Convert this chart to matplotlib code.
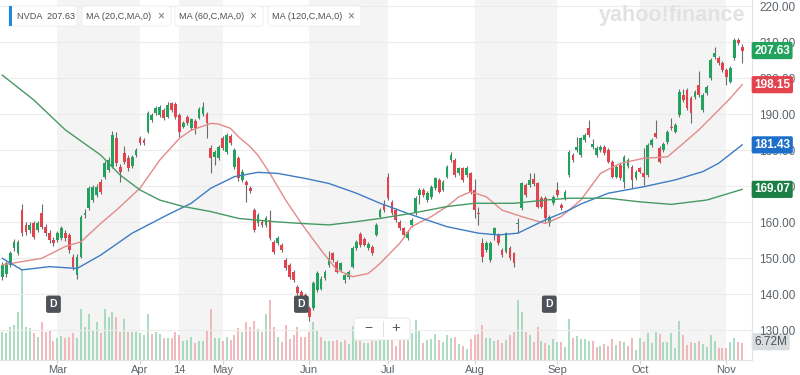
import matplotlib
matplotlib.use('Agg')
import matplotlib.pyplot as plt
import matplotlib.transforms as mtransforms
from matplotlib.patches import FancyBboxPatch, Rectangle

plt.rcParams['font.family'] = ['Liberation Sans', 'DejaVu Sans']

# daily candles, one entry per trading day (index 0 = first visible day)
opens = [144.8, 145.5, 148.1, 152.7, 151.3, 163.3, 159.2, 157.8, 159.6, 157.8,
         162.4, 158.7, 156.9, 155.0, 155.0, 155.5, 156.9, 156.4, 150.4, 145.3,
         150.4, 162.0, 163.8, 166.1, 167.5, 171.2, 172.6, 174.4, 175.4, 183.2,
         175.4, 179.1, 177.7, 175.5, 178.6, 183.2, 182.8, 185.1, 188.3, 190.2,
         189.7, 191.1, 189.3, 193.0, 192.8, 189.7, 186.5, 189.3, 186.0, 188.0,
         189.0, 190.0, 190.0, 180.5, 178.1, 177.7, 183.2, 179.5, 184.0, 175.4,
         177.7, 171.7, 171.2, 169.5, 163.3, 159.6, 160.0, 159.1, 160.6, 154.5,
         154.2, 153.6, 149.4, 148.0, 146.2, 142.0, 140.6, 139.7, 136.0, 136.0,
         141.1, 141.5, 144.4, 148.1, 151.3, 149.0, 146.7, 143.9, 144.8, 147.6,
         152.7, 156.8, 155.4, 152.8, 153.1, 156.4, 161.5, 164.7, 172.6, 165.6,
         163.3, 160.1, 158.2, 155.5, 159.2, 162.4, 167.5, 168.9, 166.1, 167.0,
         169.4, 171.7, 169.0, 172.6, 177.2, 177.2, 173.5, 174.9, 173.0, 173.5,
         168.9, 162.2, 154.1, 152.2, 149.4, 156.4, 156.4, 152.2, 151.8, 152.7,
         151.3, 159.4, 163.8, 170.3, 170.3, 172.0, 170.7, 166.6, 166.6, 159.6,
         165.2, 168.9, 164.7, 166.6, 173.0, 178.6, 180.0, 178.6, 182.8, 186.0,
         180.9, 178.6, 180.0, 180.9, 180.0, 176.8, 172.6, 175.8, 171.2, 175.5,
         175.4, 172.1, 174.9, 173.5, 173.0, 181.4, 184.6, 180.5, 180.0, 182.3,
         186.5, 185.1, 189.7, 195.3, 196.7, 194.4, 194.8, 198.0, 191.1, 195.7,
         199.9, 205.9, 205.5, 204.1, 202.2, 199.0, 205.5, 210.6, 208.7]
highs = [148.8, 149.3, 152.0, 155.2, 155.0, 165.0, 160.0, 160.0, 160.3, 160.2,
         165.0, 159.5, 157.8, 155.8, 157.5, 158.8, 157.8, 157.0, 151.2, 151.0,
         162.0, 163.5, 170.0, 170.3, 170.5, 172.0, 177.0, 178.0, 185.2, 185.0,
         176.0, 181.2, 178.5, 178.6, 180.6, 183.8, 183.4, 190.8, 190.4, 192.2,
         192.5, 191.8, 193.2, 193.4, 193.3, 190.2, 188.0, 189.8, 189.0, 188.6,
         192.0, 193.2, 190.5, 181.5, 180.0, 181.4, 183.8, 184.8, 184.5, 180.5,
         178.3, 174.6, 171.8, 170.0, 164.0, 162.6, 160.6, 161.6, 163.3, 155.0,
         156.0, 154.1, 150.0, 148.6, 146.8, 142.6, 141.2, 140.2, 136.6, 143.6,
         146.3, 145.0, 146.8, 152.0, 151.8, 149.5, 149.0, 145.8, 146.7, 153.2,
         155.0, 157.3, 155.9, 154.5, 153.6, 159.7, 163.8, 166.0, 173.5, 166.2,
         163.8, 160.6, 158.7, 157.8, 161.0, 167.1, 169.5, 169.4, 168.5, 170.3,
         172.6, 172.2, 171.7, 175.9, 179.5, 177.7, 175.4, 175.4, 175.5, 174.0,
         172.0, 164.3, 155.5, 154.6, 154.6, 158.5, 156.9, 152.7, 157.3, 153.2,
         151.8, 161.0, 171.2, 170.8, 173.5, 173.5, 171.2, 167.1, 167.1, 162.0,
         167.5, 171.0, 165.2, 168.9, 180.0, 179.1, 183.7, 183.7, 184.7, 188.3,
         183.0, 181.0, 181.4, 181.4, 180.5, 177.3, 175.7, 176.3, 178.5, 177.7,
         175.9, 174.5, 175.4, 180.5, 181.9, 183.3, 188.3, 181.0, 182.3, 185.6,
         188.8, 187.5, 197.0, 197.0, 197.2, 194.9, 196.7, 202.0, 195.8, 198.1,
         205.5, 208.7, 206.0, 204.6, 202.7, 203.2, 211.1, 211.0, 209.5]
lows = [144.0, 144.8, 147.5, 152.0, 150.8, 156.0, 156.5, 157.0, 155.2, 157.2,
        158.0, 156.2, 154.2, 153.4, 154.5, 155.0, 154.8, 151.5, 146.8, 144.3,
        150.0, 161.0, 163.2, 165.5, 167.0, 167.8, 172.0, 174.0, 175.0, 175.6,
        171.2, 176.2, 174.2, 175.0, 178.0, 181.3, 181.4, 184.6, 187.8, 189.6,
        189.2, 188.2, 188.8, 190.5, 188.7, 183.7, 186.0, 186.9, 185.5, 184.5,
        188.5, 189.5, 183.3, 173.5, 175.8, 177.2, 180.0, 179.0, 181.4, 174.8,
        171.5, 171.2, 165.6, 168.0, 157.2, 159.0, 158.5, 158.6, 155.0, 151.2,
        153.7, 151.7, 146.6, 144.3, 143.4, 139.7, 138.2, 137.8, 132.5, 135.5,
        140.6, 141.0, 144.0, 147.6, 148.8, 145.7, 146.2, 143.0, 144.3, 147.1,
        152.2, 153.1, 153.2, 152.3, 150.8, 156.0, 161.0, 162.8, 166.0, 161.9,
        160.0, 157.7, 155.9, 155.0, 158.7, 162.0, 165.0, 167.0, 165.6, 166.5,
        169.0, 168.0, 168.5, 172.2, 176.8, 172.5, 173.0, 171.2, 172.5, 167.9,
        161.0, 159.2, 149.0, 151.7, 149.0, 155.0, 153.6, 150.3, 151.3, 149.4,
        147.5, 157.0, 163.3, 167.0, 169.8, 170.0, 163.8, 163.8, 160.0, 159.0,
        164.7, 167.0, 163.3, 166.1, 172.5, 176.7, 179.5, 178.1, 182.3, 183.7,
        180.4, 178.1, 179.5, 178.6, 176.3, 172.1, 172.1, 171.6, 169.5, 175.0,
        169.5, 171.6, 173.5, 170.3, 172.5, 180.9, 183.2, 176.3, 179.5, 181.8,
        185.5, 184.6, 189.2, 193.4, 191.1, 187.5, 194.3, 194.8, 190.6, 195.2,
        199.4, 205.4, 203.6, 201.7, 198.0, 198.5, 205.0, 209.1, 204.1]
closes = [148.1, 148.5, 151.3, 154.5, 154.5, 156.9, 157.3, 159.2, 155.9, 159.6,
          158.7, 156.9, 155.0, 154.1, 156.9, 158.2, 155.5, 152.2, 147.6, 150.4,
          161.5, 162.5, 169.4, 169.8, 169.8, 168.4, 176.3, 177.2, 184.2, 176.3,
          174.0, 176.8, 174.9, 178.0, 180.0, 181.9, 181.9, 190.2, 189.7, 191.6,
          192.0, 188.8, 192.5, 191.1, 189.3, 185.1, 187.4, 187.5, 188.5, 186.0,
          191.5, 192.0, 187.5, 177.7, 179.5, 180.9, 180.5, 184.2, 182.0, 180.0,
          172.1, 174.0, 170.3, 168.5, 157.8, 162.0, 159.1, 161.0, 155.5, 151.8,
          155.5, 152.2, 147.1, 144.8, 143.9, 140.2, 138.8, 138.3, 133.7, 143.0,
          145.7, 144.3, 146.2, 149.9, 149.4, 146.2, 148.5, 145.3, 146.2, 152.7,
          154.5, 153.6, 153.7, 154.0, 151.3, 159.2, 163.3, 163.3, 166.6, 162.4,
          160.5, 158.2, 156.4, 157.3, 160.5, 166.6, 168.9, 167.5, 168.0, 169.8,
          172.1, 168.4, 171.2, 175.4, 178.6, 173.0, 174.9, 171.7, 175.0, 168.4,
          163.3, 162.0, 150.4, 154.1, 154.1, 158.2, 154.1, 150.8, 156.9, 149.9,
          148.5, 159.8, 170.7, 167.5, 171.7, 170.5, 164.3, 164.3, 161.0, 161.5,
          167.0, 167.5, 163.8, 168.4, 179.5, 177.2, 180.9, 183.2, 184.2, 184.2,
          181.8, 180.5, 180.9, 179.1, 176.8, 172.6, 175.2, 172.1, 178.1, 177.2,
          171.7, 174.0, 174.0, 172.6, 181.4, 182.8, 183.7, 176.8, 181.8, 185.1,
          186.0, 187.0, 196.2, 193.9, 191.6, 190.2, 196.2, 195.3, 195.3, 197.6,
          205.0, 206.9, 204.1, 202.2, 200.4, 202.7, 210.6, 209.6, 207.63]
# volume in millions
volumes = [11.3, 10.7, 13.3, 14.0, 19.3, 36.0, 13.3, 12.7, 10.7, 9.3,
           15.3, 11.3, 11.6, 7.6, 8.7, 9.6, 8.7, 9.3, 10.7, 8.7,
           20.4, 13.3, 18.3, 12.0, 15.3, 10.7, 20.3, 17.3, 19.3, 17.3,
           11.3, 16.3, 11.3, 11.1, 11.1, 10.7, 10.0, 18.3, 10.3, 11.1,
           10.3, 8.7, 8.7, 8.7, 11.1, 10.0, 7.7, 8.0, 9.3, 6.7,
           7.6, 7.6, 11.6, 20.4, 8.9, 8.7, 7.6, 9.1, 8.0, 10.0,
           12.9, 11.1, 15.3, 13.3, 15.6, 12.4, 11.1, 18.3, 24.0, 13.3,
           9.3, 7.3, 14.0, 8.4, 10.0, 13.3, 9.3, 9.3, 11.1, 15.3,
           12.0, 9.3, 7.6, 7.6, 7.6, 8.0, 7.1, 8.0, 6.3, 13.7,
           7.6, 7.6, 6.7, 6.7, 7.6, 7.6, 9.3, 9.3, 9.3, 9.3,
           5.7, 8.7, 8.0, 8.0, 10.7, 16.0, 11.6, 6.7, 8.0, 8.4,
           10.3, 8.0, 7.1, 10.0, 8.7, 9.3, 6.3, 5.7, 4.4, 8.4,
           10.0, 10.3, 14.0, 8.7, 8.7, 7.6, 8.0, 6.7, 8.0, 10.0,
           11.1, 24.0, 19.1, 11.1, 10.0, 7.1, 13.3, 7.6, 6.7, 6.0,
           8.4, 7.1, 7.1, 5.3, 16.4, 8.9, 9.7, 8.4, 8.4, 7.6,
           7.6, 5.3, 5.7, 6.3, 5.7, 8.4, 6.0, 7.6, 7.1, 5.7,
           8.7, 4.0, 8.7, 7.1, 10.7, 6.7, 11.2, 10.3, 7.1, 7.1,
           10.7, 4.7, 15.7, 10.0, 6.0, 7.3, 6.7, 7.6, 6.3, 5.3,
           10.0, 7.6, 4.9, 4.9, 4.9, 7.1, 8.7, 7.1, 6.72]

# moving averages (day index, value)
ma20_idx = [0, 10, 16, 20, 25, 29, 35, 40, 45, 48, 53, 55, 58, 60, 63, 65, 68, 72,
            76, 81, 85, 89, 93, 96, 101, 104, 109, 113, 116, 119, 123, 127, 132,
            138, 142, 144, 147, 152, 157, 163, 169, 173, 177, 182, 185, 188]
ma20_val = [148.1, 149.9, 153.2, 154.5, 159.6, 163.3, 169.4, 177.2, 183.2, 185.5,
            187.4, 187.2, 186.0, 183.7, 180.9, 178.5, 173.5, 166.1, 159.6, 152.2,
            146.7, 144.8, 145.7, 148.5, 154.1, 158.7, 161.5, 164.3, 167.0, 168.4,
            167.0, 163.3, 161.5, 159.6, 161.5, 163.3, 166.1, 173.5, 176.3, 177.7,
            178.1, 181.8, 185.6, 191.1, 194.4, 198.15]
ma60_idx = [0, 5, 12, 19, 25, 33, 42, 48, 53, 59, 65, 70, 77, 83, 90, 96, 104,
            113, 121, 126, 131, 138, 144, 147, 154, 163, 171, 178, 182, 188]
ma60_val = [149.9, 146.7, 147.6, 147.1, 150.8, 156.9, 162.0, 165.2, 169.4, 172.6,
            173.8, 173.5, 172.1, 170.7, 168.0, 165.2, 162.0, 158.7, 156.9, 156.4,
            156.9, 160.6, 163.3, 165.0, 168.0, 169.8, 171.7, 174.0, 176.3, 181.43]
ma120_idx = [0, 8, 16, 25, 30, 35, 40, 46, 53, 60, 69, 76, 83, 90, 96, 104, 113,
             120, 130, 138, 144, 154, 162, 170, 179, 188]
ma120_val = [200.8, 193.9, 185.6, 178.6, 173.0, 168.9, 166.1, 164.3, 162.9, 161.0,
             160.1, 159.6, 159.2, 160.1, 161.0, 162.4, 164.3, 165.2, 165.2, 166.1,
             166.6, 166.6, 165.6, 164.9, 166.1, 169.07]

month_labels = ['Mar', 'Apr', '14', 'May', 'Jun', 'Jul', 'Aug', 'Sep', 'Oct', 'Nov']
month_idx = [14, 35, 45, 56, 78, 98, 120, 141, 162, 184]
dividend_idx = [13, 76, 139]

UP = '#22a35d'
DOWN = '#e3434c'
UP_VOL = '#93d3b0'
DOWN_VOL = '#eea6a8'
TEXT = '#5b636a'

fig = plt.figure(figsize=(8, 3.75), dpi=100)
rect = [0, 15 / 375, 752 / 800, 360 / 375]
ax_vol = fig.add_axes(rect)
ax = fig.add_axes(rect, sharex=ax_vol)
ax.set_facecolor('none')

n = len(closes)
idx = list(range(n))
ax_vol.set_xlim(-0.58, 190.5)
ax_vol.set_ylim(0, 144)
ax.set_ylim(121.67, 221.67)

# month shading bands
for k in range(0, len(month_idx) - 1, 2):
    ax_vol.axvspan(month_idx[k], month_idx[k + 1], color='#f4f4f4', lw=0, zorder=0)

# volume
vol_colors = []
for i in idx:
    prev = opens[0] if i == 0 else closes[i - 1]
    vol_colors.append(UP_VOL if closes[i] >= prev else DOWN_VOL)
ax_vol.vlines(idx, 0, volumes, colors=vol_colors, lw=1.1, zorder=2)
ax_vol.axis('off')

# grid
for v in range(130, 221, 10):
    ax.axhline(v, color='#ececec', lw=0.8, zorder=0)

# candles
for i in idx:
    c = UP if closes[i] >= opens[i] else DOWN
    ax.vlines(i, lows[i], highs[i], color='#6b6b6b', lw=0.8, zorder=3)
    h = closes[i] - opens[i]
    if abs(h) < 0.35:
        h = 0.35
    ax.bar(i, h, bottom=opens[i], width=0.7, color=c, lw=0, zorder=4)

# moving averages
ax.plot(ma20_idx, ma20_val, color='#e38a8a', lw=1.0, zorder=5)
ax.plot(ma60_idx, ma60_val, color='#3e7cc4', lw=1.0, zorder=5)
ax.plot(ma120_idx, ma120_val, color='#459a63', lw=1.0, zorder=5)

# axes styling
for s in ['left', 'top']:
    ax.spines[s].set_visible(False)
ax.spines['right'].set_color('#e3e3e3')
ax.spines['bottom'].set_color('#e3e3e3')
ax.yaxis.tick_right()
ax.set_yticks(range(130, 221, 10))
ax.set_yticklabels(['%.2f' % v for v in range(130, 221, 10)])
ax.tick_params(axis='y', length=0, pad=5, labelsize=8.5, labelcolor=TEXT)
ax.set_xticks(month_idx)
ax.set_xticklabels(month_labels)
ax.tick_params(axis='x', length=3, color='#d6d6d6', pad=0.5, labelsize=8, labelcolor=TEXT)

# price tags on the right
trans = mtransforms.blended_transform_factory(ax.transAxes, ax.transData)
tags = [(closes[-1], UP), (ma20_val[-1], DOWN), (ma60_val[-1], '#1d6fc9'), (ma120_val[-1], '#1c7f45')]
for val, col in tags:
    ax.text(1.003, val, '%.2f' % val, transform=trans, ha='left', va='center',
            fontsize=8.5, fontweight='bold', color='white', zorder=10,
            bbox=dict(boxstyle='round,pad=0.22,rounding_size=0.15', fc=col, ec='none'))
vtrans = mtransforms.blended_transform_factory(ax_vol.transAxes, ax_vol.transData)
ax_vol.text(1.003, volumes[-1] + 0.6, '%.2fM' % volumes[-1], transform=vtrans, ha='left',
            va='center', fontsize=8.5, color='#4a5158', zorder=10,
            bbox=dict(boxstyle='round,pad=0.22,rounding_size=0.15', fc='#d9dcdf', ec='none'))

# dividend markers
dtrans = mtransforms.blended_transform_factory(ax.transData, ax.transAxes)
for d in dividend_idx:
    ax.text(d, 0.155, 'D', transform=dtrans, ha='center', va='center', fontsize=7.5,
            fontweight='bold', color='white', zorder=9,
            bbox=dict(boxstyle='round,pad=0.35,rounding_size=0.2', fc='#4c5257', ec='none'))

# watermark
fig.text(745 / 800, 1 - 16 / 375, 'yahoo!finance', ha='right', va='center', fontsize=15.5,
         fontweight='bold', color='#e2e2e2')

# legend chips at the top
chips = [(9, 77, 'NVDA  207.63', False), (82, 171, 'MA (20,C,MA,0)', True),
         (175, 263, 'MA (60,C,MA,0)', True), (268, 361, 'MA (120,C,MA,0)', True)]
for x0, x1, label, closable in chips:
    box = FancyBboxPatch((x0 / 100, (375 - 26) / 100), (x1 - x0) / 100, 0.2,
                         boxstyle='round,pad=0,rounding_size=0.03', fc='white', ec='#ececec',
                         lw=0.6, transform=fig.dpi_scale_trans, zorder=20)
    fig.add_artist(box)
    tx = x0 + 8 if not closable else x0 + 4
    fig.text(tx / 800, 1 - 16.5 / 375, label, ha='left', va='center', fontsize=6.6,
             color='#4a5056', zorder=21)
    if closable:
        fig.text((x1 - 10) / 800, 1 - 16.5 / 375, '\u00d7', ha='center', va='center',
                 fontsize=8.5, color='#6b7278', zorder=21)
fig.add_artist(Rectangle((9 / 100, (375 - 26) / 100), 0.03, 0.2, fc='#1e88e5', ec='none',
                         transform=fig.dpi_scale_trans, zorder=22))

# zoom control
zbox = FancyBboxPatch((354 / 100, (375 - 340) / 100), 0.56, 0.22,
                      boxstyle='round,pad=0,rounding_size=0.03', fc='white', ec='#e4e4e4',
                      lw=0.6, transform=fig.dpi_scale_trans, zorder=20)
fig.add_artist(zbox)
fig.text(368 / 800, 1 - 328 / 375, '\u2212', ha='center', va='center', fontsize=10,
         color='#555b61', zorder=21)
fig.text(396 / 800, 1 - 328 / 375, '+', ha='center', va='center', fontsize=11,
         color='#555b61', zorder=21)
fig.add_artist(Rectangle((383 / 100, (375 - 337) / 100), 0.008, 0.16, fc='#e0e0e0',
                         ec='none', transform=fig.dpi_scale_trans, zorder=21))

fig.savefig('out.png', dpi=100)
